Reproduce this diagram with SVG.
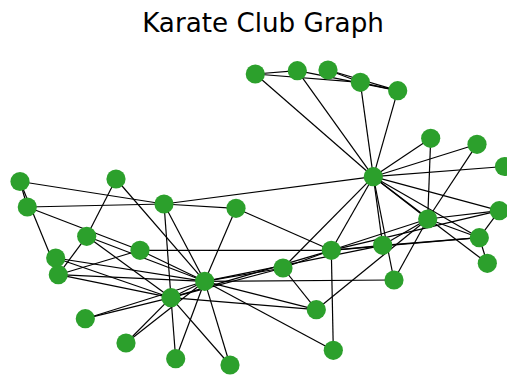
<svg xmlns="http://www.w3.org/2000/svg" width="507" height="376" viewBox="0 0 507 376">
<style>
.e line{stroke:#000;stroke-width:1.2;}
.n circle{fill:#2ca02c;}
.t{font-family:"DejaVu Sans",sans-serif;font-size:26.2px;fill:#000;}
</style>
<rect width="507" height="376" fill="#fff"/>
<text class="t" x="263" y="32.2" text-anchor="middle">Karate Club Graph</text>
<g id="edges" class="e">
<line x1="373.3" y1="176.7" x2="427.7" y2="219"/>
<line x1="373.3" y1="176.7" x2="331.3" y2="250.3"/>
<line x1="373.3" y1="176.7" x2="479.3" y2="237.7"/>
<line x1="373.3" y1="176.7" x2="255.3" y2="74"/>
<line x1="373.3" y1="176.7" x2="397.7" y2="90.7"/>
<line x1="373.3" y1="176.7" x2="360.3" y2="82.3"/>
<line x1="373.3" y1="176.7" x2="499.3" y2="210.7"/>
<line x1="373.3" y1="176.7" x2="283" y2="268"/>
<line x1="373.3" y1="176.7" x2="297.3" y2="70.7"/>
<line x1="373.3" y1="176.7" x2="504.5" y2="166.5"/>
<line x1="373.3" y1="176.7" x2="487.3" y2="263.3"/>
<line x1="373.3" y1="176.7" x2="382.7" y2="245.3"/>
<line x1="373.3" y1="176.7" x2="430.7" y2="138.3"/>
<line x1="373.3" y1="176.7" x2="394" y2="280"/>
<line x1="373.3" y1="176.7" x2="477" y2="144.3"/>
<line x1="373.3" y1="176.7" x2="164" y2="204"/>
<line x1="427.7" y1="219" x2="331.3" y2="250.3"/>
<line x1="427.7" y1="219" x2="479.3" y2="237.7"/>
<line x1="427.7" y1="219" x2="499.3" y2="210.7"/>
<line x1="427.7" y1="219" x2="382.7" y2="245.3"/>
<line x1="427.7" y1="219" x2="430.7" y2="138.3"/>
<line x1="427.7" y1="219" x2="394" y2="280"/>
<line x1="427.7" y1="219" x2="477" y2="144.3"/>
<line x1="427.7" y1="219" x2="316.3" y2="309.7"/>
<line x1="331.3" y1="250.3" x2="479.3" y2="237.7"/>
<line x1="331.3" y1="250.3" x2="499.3" y2="210.7"/>
<line x1="331.3" y1="250.3" x2="283" y2="268"/>
<line x1="331.3" y1="250.3" x2="333.3" y2="350.3"/>
<line x1="331.3" y1="250.3" x2="382.7" y2="245.3"/>
<line x1="331.3" y1="250.3" x2="140" y2="250.3"/>
<line x1="331.3" y1="250.3" x2="236" y2="208.3"/>
<line x1="331.3" y1="250.3" x2="171" y2="297.7"/>
<line x1="479.3" y1="237.7" x2="499.3" y2="210.7"/>
<line x1="479.3" y1="237.7" x2="487.3" y2="263.3"/>
<line x1="479.3" y1="237.7" x2="382.7" y2="245.3"/>
<line x1="255.3" y1="74" x2="360.3" y2="82.3"/>
<line x1="255.3" y1="74" x2="297.3" y2="70.7"/>
<line x1="397.7" y1="90.7" x2="360.3" y2="82.3"/>
<line x1="397.7" y1="90.7" x2="297.3" y2="70.7"/>
<line x1="397.7" y1="90.7" x2="328" y2="70"/>
<line x1="360.3" y1="82.3" x2="328" y2="70"/>
<line x1="283" y1="268" x2="316.3" y2="309.7"/>
<line x1="283" y1="268" x2="171" y2="297.7"/>
<line x1="283" y1="268" x2="204.7" y2="281.3"/>
<line x1="333.3" y1="350.3" x2="204.7" y2="281.3"/>
<line x1="382.7" y1="245.3" x2="204.7" y2="281.3"/>
<line x1="55.7" y1="258" x2="171" y2="297.7"/>
<line x1="55.7" y1="258" x2="204.7" y2="281.3"/>
<line x1="85.3" y1="318.7" x2="171" y2="297.7"/>
<line x1="85.3" y1="318.7" x2="204.7" y2="281.3"/>
<line x1="126" y1="343" x2="171" y2="297.7"/>
<line x1="126" y1="343" x2="204.7" y2="281.3"/>
<line x1="394" y1="280" x2="204.7" y2="281.3"/>
<line x1="175.7" y1="358.7" x2="171" y2="297.7"/>
<line x1="175.7" y1="358.7" x2="204.7" y2="281.3"/>
<line x1="230" y1="365" x2="171" y2="297.7"/>
<line x1="230" y1="365" x2="204.7" y2="281.3"/>
<line x1="58.3" y1="274.7" x2="20" y2="181.5"/>
<line x1="58.3" y1="274.7" x2="140" y2="250.3"/>
<line x1="58.3" y1="274.7" x2="86.7" y2="236.3"/>
<line x1="58.3" y1="274.7" x2="171" y2="297.7"/>
<line x1="58.3" y1="274.7" x2="204.7" y2="281.3"/>
<line x1="27.3" y1="207" x2="20" y2="181.5"/>
<line x1="27.3" y1="207" x2="140" y2="250.3"/>
<line x1="27.3" y1="207" x2="164" y2="204"/>
<line x1="20" y1="181.5" x2="164" y2="204"/>
<line x1="116" y1="179" x2="86.7" y2="236.3"/>
<line x1="116" y1="179" x2="204.7" y2="281.3"/>
<line x1="140" y1="250.3" x2="204.7" y2="281.3"/>
<line x1="236" y1="208.3" x2="164" y2="204"/>
<line x1="236" y1="208.3" x2="204.7" y2="281.3"/>
<line x1="86.7" y1="236.3" x2="171" y2="297.7"/>
<line x1="86.7" y1="236.3" x2="204.7" y2="281.3"/>
<line x1="316.3" y1="309.7" x2="171" y2="297.7"/>
<line x1="316.3" y1="309.7" x2="204.7" y2="281.3"/>
<line x1="164" y1="204" x2="171" y2="297.7"/>
<line x1="164" y1="204" x2="204.7" y2="281.3"/>
<line x1="171" y1="297.7" x2="204.7" y2="281.3"/>
</g>
<g id="n0" class="n"><circle cx="373.3" cy="176.7" r="9.6"/></g>
<g id="n1" class="n"><circle cx="427.7" cy="219" r="9.6"/></g>
<g id="n2" class="n"><circle cx="331.3" cy="250.3" r="9.6"/></g>
<g id="n3" class="n"><circle cx="479.3" cy="237.7" r="9.6"/></g>
<g id="n4" class="n"><circle cx="255.3" cy="74" r="9.6"/></g>
<g id="n5" class="n"><circle cx="397.7" cy="90.7" r="9.6"/></g>
<g id="n6" class="n"><circle cx="360.3" cy="82.3" r="9.6"/></g>
<g id="n7" class="n"><circle cx="499.3" cy="210.7" r="9.6"/></g>
<g id="n8" class="n"><circle cx="283" cy="268" r="9.6"/></g>
<g id="n9" class="n"><circle cx="333.3" cy="350.3" r="9.6"/></g>
<g id="n10" class="n"><circle cx="297.3" cy="70.7" r="9.6"/></g>
<g id="n11" class="n"><circle cx="504.5" cy="166.5" r="9.6"/></g>
<g id="n12" class="n"><circle cx="487.3" cy="263.3" r="9.6"/></g>
<g id="n13" class="n"><circle cx="382.7" cy="245.3" r="9.6"/></g>
<g id="n14" class="n"><circle cx="55.7" cy="258" r="9.6"/></g>
<g id="n15" class="n"><circle cx="85.3" cy="318.7" r="9.6"/></g>
<g id="n16" class="n"><circle cx="328" cy="70" r="9.6"/></g>
<g id="n17" class="n"><circle cx="430.7" cy="138.3" r="9.6"/></g>
<g id="n18" class="n"><circle cx="126" cy="343" r="9.6"/></g>
<g id="n19" class="n"><circle cx="394" cy="280" r="9.6"/></g>
<g id="n20" class="n"><circle cx="175.7" cy="358.7" r="9.6"/></g>
<g id="n21" class="n"><circle cx="477" cy="144.3" r="9.6"/></g>
<g id="n22" class="n"><circle cx="230" cy="365" r="9.6"/></g>
<g id="n23" class="n"><circle cx="58.3" cy="274.7" r="9.6"/></g>
<g id="n24" class="n"><circle cx="27.3" cy="207" r="9.6"/></g>
<g id="n25" class="n"><circle cx="20" cy="181.5" r="9.6"/></g>
<g id="n26" class="n"><circle cx="116" cy="179" r="9.6"/></g>
<g id="n27" class="n"><circle cx="140" cy="250.3" r="9.6"/></g>
<g id="n28" class="n"><circle cx="236" cy="208.3" r="9.6"/></g>
<g id="n29" class="n"><circle cx="86.7" cy="236.3" r="9.6"/></g>
<g id="n30" class="n"><circle cx="316.3" cy="309.7" r="9.6"/></g>
<g id="n31" class="n"><circle cx="164" cy="204" r="9.6"/></g>
<g id="n32" class="n"><circle cx="171" cy="297.7" r="9.6"/></g>
<g id="n33" class="n"><circle cx="204.7" cy="281.3" r="9.6"/></g>
</svg>
